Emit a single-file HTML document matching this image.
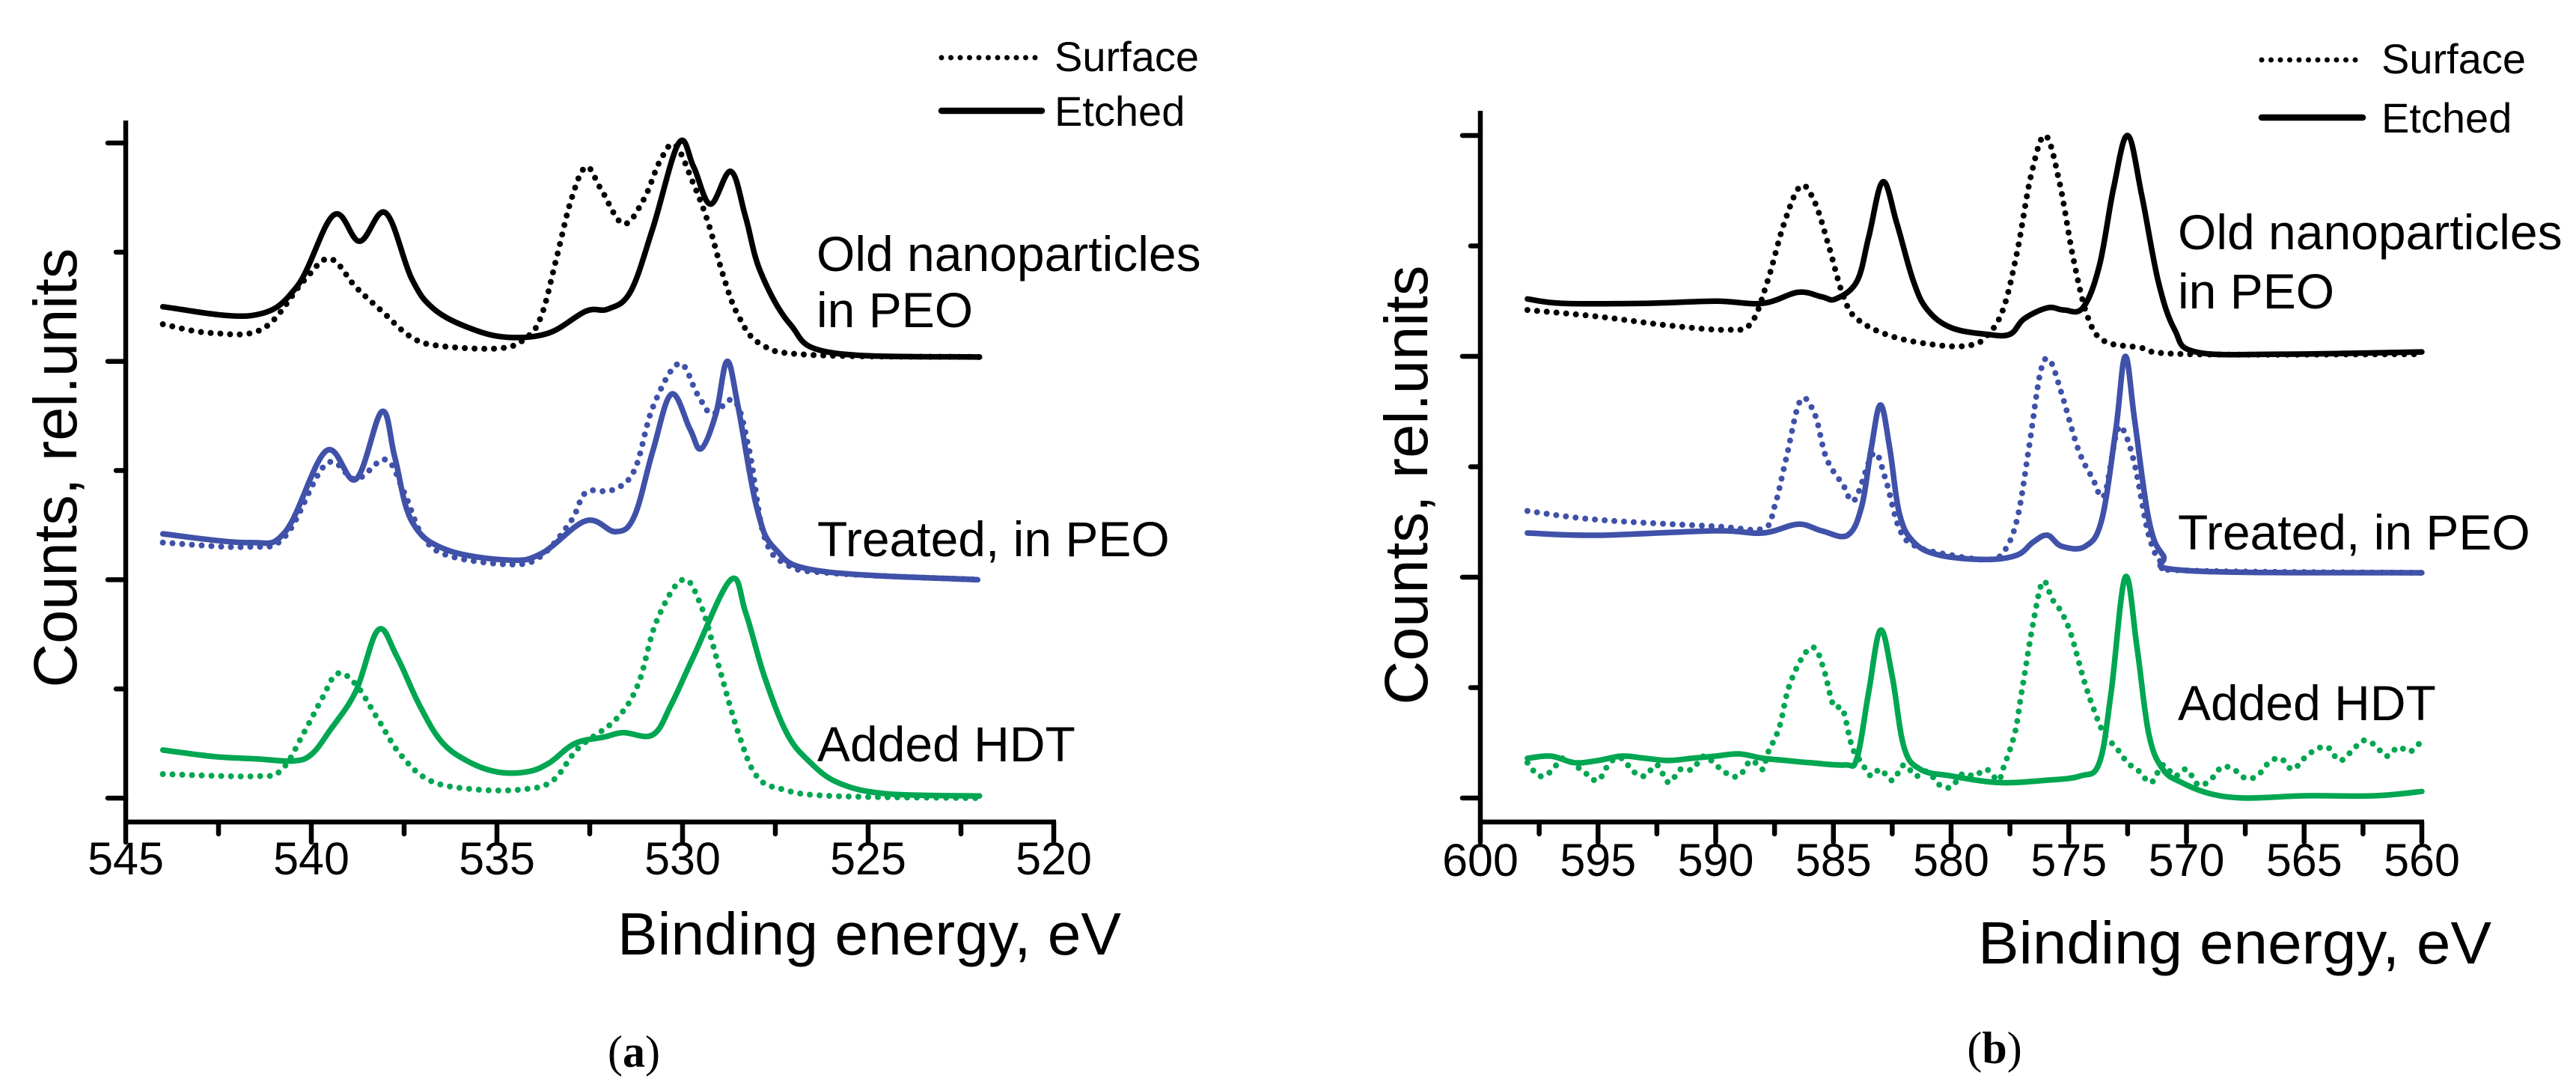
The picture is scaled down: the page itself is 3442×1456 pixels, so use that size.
<!DOCTYPE html>
<html><head><meta charset="utf-8">
<style>
html,body{margin:0;padding:0;background:#fff;}
svg{display:block;}
text{font-family:"Liberation Sans",Arial,sans-serif;fill:#000;}
</style></head>
<body>
<svg id="fig" width="3442" height="1456" viewBox="0 0 3442 1456" xmlns="http://www.w3.org/2000/svg">
<rect width="3442" height="1456" fill="#fff"/>
<g id="panelA"></g>
<g id="panelB"></g>
<text x="847" y="1425" font-size="60" text-anchor="middle" style="font-family:'Liberation Serif',serif">(<tspan font-weight="bold">a</tspan>)</text>
<text x="2665" y="1420" font-size="60" text-anchor="middle" style="font-family:'Liberation Serif',serif">(<tspan font-weight="bold">b</tspan>)</text>
</svg>
<script>
// ---------- Panel A data (O 1s region) ----------
const aTicks = [545, 540, 535, 530, 525, 520];
const aBlackEtchedE = [544,541.6,540.4,539.4,538.7,538.0,537.3,536.7,535.7,534.7,533.6,532.6,532.0,531.4,530.8,530.1,529.7,529.25,528.7,528.3,527.9,527.1,526.0,522.0];
const aBlackEtchedV = [0.25,0.21,0.34,0.67,0.55,0.68,0.38,0.24,0.15,0.11,0.13,0.23,0.24,0.32,0.61,1.0,0.89,0.72,0.87,0.66,0.41,0.17,0.04,0.02];
const aBlackSurfE = [544,542.7,541.3,540.2,539.5,538.8,538.1,537.3,536.5,534.9,534.2,533.8,533.4,533.0,532.6,532.2,531.6,531.05,530.6,530.2,529.7,529.3,528.9,528.5,527.9,526.6,522.0];
const aBlackSurfV = [0.17,0.13,0.15,0.37,0.47,0.34,0.23,0.11,0.07,0.06,0.11,0.21,0.47,0.74,0.89,0.79,0.63,0.74,0.92,0.99,0.81,0.63,0.39,0.21,0.08,0.03,0.02];
const aBlueEtchedE = [544,541.7,540.7,539.6,538.8,538.1,537.75,537.3,536.4,534.7,533.8,532.6,531.8,531.3,530.8,530.3,529.8,529.5,529.1,528.8,528.5,528.0,527.5,526.3,522.05];
const aBlueEtchedV = [0.21,0.17,0.22,0.59,0.46,0.77,0.56,0.27,0.14,0.09,0.12,0.27,0.22,0.29,0.59,0.85,0.69,0.60,0.76,1.0,0.79,0.33,0.14,0.04,0.0];
const aBlueSurfE = [544,541.7,540.7,539.6,538.8,538.0,537.5,537.0,536.3,534.6,533.8,533.0,532.6,531.9,531.3,530.8,530.1,529.6,529.2,528.6,528.2,527.8,527.2,526.0,522.0];
const aBlueSurfV = [0.17,0.15,0.20,0.53,0.46,0.55,0.40,0.20,0.11,0.07,0.11,0.27,0.40,0.41,0.50,0.79,0.99,0.85,0.76,0.82,0.59,0.20,0.07,0.03,0.0];
const aGreenEtchedE = [544,542.6,541.5,540.5,540.0,539.5,538.8,538.2,537.7,537.1,536.5,535.8,535.0,534.2,533.6,532.9,532.1,531.6,530.8,530.3,529.7,528.7,528.3,527.8,527.2,526.6,525.8,524.5,522.0];
const aGreenEtchedV = [0.22,0.19,0.18,0.17,0.20,0.31,0.49,0.77,0.65,0.43,0.26,0.17,0.12,0.12,0.16,0.25,0.28,0.30,0.29,0.43,0.65,1.0,0.85,0.56,0.30,0.17,0.07,0.02,0.01];
const aGreenSurfE = [544,541.5,540.8,540.2,539.7,539.3,538.8,538.2,537.6,536.8,535.6,534.3,533.5,532.8,531.8,531.2,530.7,530.0,529.5,529.0,528.5,528.0,527.3,526.0,522.0];
const aGreenSurfV = [0.11,0.10,0.13,0.30,0.46,0.57,0.52,0.36,0.20,0.08,0.04,0.04,0.08,0.23,0.36,0.52,0.81,1.0,0.88,0.59,0.30,0.10,0.04,0.01,0.0];

// ---------- Panel B data (Te 3d region) ----------
const bTicks = [600, 595, 590, 585, 580, 575, 570, 565, 560];
const bBlackEtchedE = [598,596.5,593,590,588,586.5,585.5,584.9,584,583.5,582.9,582.3,581.6,581.0,580.0,578.5,577.5,576.9,575.9,575.2,574.4,573.7,573.1,572.5,571.9,571.2,570.5,569.6,566,560];
const bBlackEtchedV = [0.26,0.24,0.24,0.25,0.24,0.29,0.27,0.26,0.34,0.54,0.79,0.60,0.34,0.21,0.13,0.10,0.10,0.17,0.22,0.21,0.22,0.41,0.76,1.0,0.73,0.34,0.12,0.02,0.01,0.02];
const bBlackSurfE = [598,595,592,589.5,588.5,587.8,587.1,586.4,585.8,585.2,584.6,584.0,582.5,580.5,579.2,578.5,577.8,577.2,576.6,576.0,575.4,574.8,574.2,573.5,572,570,560];
const bBlackSurfV = [0.21,0.18,0.14,0.12,0.15,0.34,0.60,0.77,0.70,0.50,0.28,0.17,0.09,0.05,0.05,0.09,0.21,0.47,0.82,1.0,0.79,0.44,0.18,0.07,0.04,0.01,0.01];
const bBlueEtchedE = [598,595,590,588,586.5,585.5,584.4,583.8,583.4,583.0,582.6,582.2,581.6,580.5,578.5,577.2,576.5,575.9,575.3,574.3,573.6,573.0,572.6,572.2,571.6,571.0,570,560];
const bBlueEtchedV = [0.20,0.19,0.21,0.20,0.24,0.21,0.19,0.32,0.58,0.78,0.58,0.29,0.16,0.10,0.08,0.10,0.16,0.19,0.14,0.14,0.26,0.67,1.0,0.71,0.26,0.10,0.03,0.02];
const bBlueSurfE = [598,595,590,588,587.5,587.0,586.4,585.8,585.3,584.6,584.1,583.3,582.8,582.2,581.5,580,578.5,577.8,577.2,576.7,576.2,575.8,575.3,574.6,574.0,573.5,573.0,572.7,572.2,571.6,571.0,570,560];
const bBlueSurfV = [0.30,0.26,0.23,0.22,0.32,0.54,0.80,0.74,0.54,0.42,0.35,0.56,0.45,0.22,0.14,0.10,0.08,0.11,0.26,0.58,0.93,0.98,0.83,0.58,0.45,0.37,0.64,0.67,0.51,0.19,0.06,0.03,0.02];
const bGreenEtchedE = [598,597,596,595,594,593,592,591,590,589,588,587,586,584.5,584,583.5,583.0,582.5,582.0,581.3,580,578,576,574.5,573.7,573.2,572.6,572.1,571.6,571.0,570.2,569,567.5,565,562,560];
const bGreenEtchedV = [0.18,0.19,0.16,0.17,0.19,0.18,0.17,0.18,0.19,0.20,0.18,0.17,0.16,0.15,0.18,0.48,0.76,0.55,0.23,0.13,0.10,0.07,0.08,0.10,0.16,0.48,1.0,0.68,0.29,0.13,0.07,0.02,0.0,0.01,0.01,0.03];
const bGreenSurfE = [598,597.5,597,596.5,596,595.5,595,594.5,594,593.5,593,592.5,592,591.5,591,590.5,590,589.5,589,588.5,588,587.8,587.3,586.9,586.3,585.8,585.4,585.0,584.6,584.2,583.8,583.4,583,582.5,582,581.5,581,580.5,580,579.5,579,578.5,578,577.8,577.3,577.0,576.5,576.1,575.7,575.3,574.9,574.4,574.0,573.5,573.0,572.5,572,571.5,571,570.5,570,569.5,569,568.5,568,567.5,567,566.5,566,565.5,565,564.5,564,563.5,563,562.5,562,561.5,561,560.5,560];
const bGreenSurfV = [0.16,0.10,0.12,0.18,0.15,0.11,0.08,0.16,0.18,0.12,0.10,0.15,0.07,0.13,0.13,0.19,0.15,0.11,0.10,0.17,0.13,0.20,0.32,0.50,0.64,0.68,0.58,0.42,0.40,0.23,0.16,0.10,0.13,0.08,0.15,0.10,0.12,0.06,0.05,0.11,0.10,0.13,0.08,0.13,0.29,0.48,0.80,0.98,0.90,0.84,0.74,0.55,0.42,0.29,0.23,0.16,0.12,0.07,0.15,0.10,0.13,0.06,0.08,0.14,0.13,0.09,0.10,0.16,0.18,0.13,0.18,0.22,0.23,0.17,0.21,0.26,0.24,0.19,0.23,0.21,0.26];

const NS = 'http://www.w3.org/2000/svg';
const BLACK = '#000000', BLUE = '#3f51a8', GREEN = '#00a651';

function mk(parent, tag, attrs) {
  const e = document.createElementNS(NS, tag);
  for (const k in attrs) e.setAttribute(k, attrs[k]);
  parent.appendChild(e);
  return e;
}

// smooth path through points (Catmull-Rom, reduced tension)
function smoothPath(p) {
  const t = 0.35;
  let d = 'M' + p[0][0].toFixed(1) + ',' + p[0][1].toFixed(1);
  for (let i = 0; i < p.length - 1; i++) {
    const p0 = p[i - 1] || p[i], p1 = p[i], p2 = p[i + 1], p3 = p[i + 2] || p2;
    const c1x = p1[0] + (p2[0] - p0[0]) * t / 2, c1y = p1[1] + (p2[1] - p0[1]) * t / 2;
    const c2x = p2[0] - (p3[0] - p1[0]) * t / 2, c2y = p2[1] - (p3[1] - p1[1]) * t / 2;
    d += ' C' + c1x.toFixed(1) + ',' + c1y.toFixed(1) + ' ' + c2x.toFixed(1) + ',' + c2y.toFixed(1) + ' ' + p2[0].toFixed(1) + ',' + p2[1].toFixed(1);
  }
  return d;
}

function drawPanel(g, cfg) {
  const xs = e => cfg.x0 + (cfg.eMax - e) * (cfg.x1 - cfg.x0) / (cfg.eMax - cfg.eMin);
  const ya = mk(g, 'line', {x1: cfg.x0, y1: cfg.axisTop, x2: cfg.x0, y2: cfg.axisY, stroke: '#000', 'stroke-width': 6.5});
  
  
  const xa = mk(g, 'line', {x1: cfg.x0 - 3, y1: cfg.axisY, x2: cfg.x1 + 3, y2: cfg.axisY, stroke: '#000', 'stroke-width': 6.5});
  
  
  for (let i = 0; i < 7; i++) {
    const y = cfg.yTop + i * cfg.span / 2;
    const len = i % 2 === 0 ? 24 : 13;
    const t = mk(g, 'line', {x1: cfg.x0 - len, y1: y, x2: cfg.x0, y2: y, stroke: '#000', 'stroke-width': 6.5, 'stroke-linecap': 'round'});
    
    
  }
  const ticks = cfg.ticks;
  for (let i = 0; i < ticks.length; i++) {
    const x = xs(ticks[i]);
    const t = mk(g, 'line', {x1: x, y1: cfg.axisY, x2: x, y2: cfg.axisY + 27, stroke: '#000', 'stroke-width': 6.5, 'stroke-linecap': 'round'});
    
    
    const lab = mk(g, 'text', {x: x, y: cfg.tickLabelY, 'font-size': 61, 'text-anchor': 'middle'});
    lab.textContent = ticks[i];
    
    
    if (i < ticks.length - 1) {
      const xm = xs((ticks[i] + ticks[i + 1]) / 2);
      const m = mk(g, 'line', {x1: xm, y1: cfg.axisY, x2: xm, y2: cfg.axisY + 16, stroke: '#000', 'stroke-width': 6.5, 'stroke-linecap': 'round'});
      
      
    }
  }
  cfg.series.forEach(s => {
    const base = cfg.yTop + s.group * cfg.span;
    const pts = s.e.map((e, i) => [xs(e), base - s.v[i] * cfg.span]);
    const attrs = {d: smoothPath(pts), fill: 'none', stroke: s.color, 'stroke-width': s.dotted ? 8 : 7.5, 'stroke-linejoin': 'round', 'stroke-linecap': 'round'};
    if (s.dotted) attrs['stroke-dasharray'] = '0 13';
    const p = mk(g, 'path', attrs);
    
    
  });
  cfg.labels.forEach(l => {
    const t = mk(g, 'text', {x: l.x, y: l.y, 'font-size': 66});
    t.textContent = l.t;
    
    
  });
  const lg = mk(g, 'g', {});
  
  
  const l1 = mk(lg, 'line', {x1: cfg.lg.x, y1: cfg.lg.y1, x2: cfg.lg.x + cfg.lg.w - 4, y2: cfg.lg.y1, stroke: '#000', 'stroke-width': 7, 'stroke-dasharray': '0 12.5', 'stroke-linecap': 'round'});
  
  
  const t1 = mk(lg, 'text', {x: cfg.lg.tx, y: cfg.lg.y1 + 18, 'font-size': 56});
  t1.textContent = 'Surface';
  
  
  const l2 = mk(lg, 'line', {x1: cfg.lg.x, y1: cfg.lg.y2, x2: cfg.lg.x + cfg.lg.w, y2: cfg.lg.y2, stroke: '#000', 'stroke-width': 8.5, 'stroke-linecap': 'round'});
  
  
  const t2 = mk(lg, 'text', {x: cfg.lg.tx, y: cfg.lg.y2 + 20, 'font-size': 56});
  t2.textContent = 'Etched';
  
  
  const xt = mk(g, 'text', {x: cfg.xt.x, y: cfg.xt.y, 'font-size': 80, textLength: cfg.xt.w, lengthAdjust: 'spacingAndGlyphs'});
  xt.textContent = 'Binding energy, eV';
  
  
  const yt = mk(g, 'text', {x: 0, y: 0, 'font-size': 82, 'text-anchor': 'middle', textLength: 587, lengthAdjust: 'spacingAndGlyphs', transform: 'translate(' + cfg.yt.x + ',' + cfg.yt.y + ') rotate(-90)'});
  yt.textContent = 'Counts, rel.units';
  
  
}

drawPanel(document.getElementById('panelA'), {
  x0: 168, x1: 1408, eMax: 545, eMin: 520, axisTop: 161, axisY: 1098, yTop: 191, span: 291.7, tickLabelY: 1168,
  ticks: aTicks,
  series: [
    {e: aBlackSurfE, v: aBlackSurfV, group: 1, color: BLACK, dotted: true, name: 'old-surface-curve'},
    {e: aBlackEtchedE, v: aBlackEtchedV, group: 1, color: BLACK, dotted: false, name: 'old-etched-curve'},
    {e: aBlueSurfE, v: aBlueSurfV, group: 2, color: BLUE, dotted: true, name: 'treated-surface-curve'},
    {e: aBlueEtchedE, v: aBlueEtchedV, group: 2, color: BLUE, dotted: false, name: 'treated-etched-curve'},
    {e: aGreenSurfE, v: aGreenSurfV, group: 3, color: GREEN, dotted: true, name: 'hdt-surface-curve'},
    {e: aGreenEtchedE, v: aGreenEtchedV, group: 3, color: GREEN, dotted: false, name: 'hdt-etched-curve'}
  ],
  labels: [
    {t: 'Old nanoparticles', x: 1091, y: 362, n: 'old-label'},
    {t: 'in PEO', x: 1091, y: 437, n: 'old-label-line2'},
    {t: 'Treated, in PEO', x: 1092, y: 743, n: 'treated-label'},
    {t: 'Added HDT', x: 1092, y: 1017, n: 'hdt-label'}
  ],
  lg: {x: 1258, w: 134, y1: 77, y2: 148, tx: 1409},
  xt: {x: 825, y: 1275, w: 673},
  yt: {x: 102, y: 625}
});

drawPanel(document.getElementById('panelB'), {
  x0: 1978, x1: 3236, eMax: 600, eMin: 560, axisTop: 148, axisY: 1098, yTop: 181, span: 295, tickLabelY: 1170,
  ticks: bTicks,
  series: [
    {e: bBlackSurfE, v: bBlackSurfV, group: 1, color: BLACK, dotted: true, name: 'old-surface-curve'},
    {e: bBlackEtchedE, v: bBlackEtchedV, group: 1, color: BLACK, dotted: false, name: 'old-etched-curve'},
    {e: bBlueSurfE, v: bBlueSurfV, group: 2, color: BLUE, dotted: true, name: 'treated-surface-curve'},
    {e: bBlueEtchedE, v: bBlueEtchedV, group: 2, color: BLUE, dotted: false, name: 'treated-etched-curve'},
    {e: bGreenSurfE, v: bGreenSurfV, group: 3, color: GREEN, dotted: true, name: 'hdt-surface-curve'},
    {e: bGreenEtchedE, v: bGreenEtchedV, group: 3, color: GREEN, dotted: false, name: 'hdt-etched-curve'}
  ],
  labels: [
    {t: 'Old nanoparticles', x: 2910, y: 333, n: 'old-label'},
    {t: 'in PEO', x: 2910, y: 412, n: 'old-label-line2'},
    {t: 'Treated, in PEO', x: 2910, y: 734, n: 'treated-label'},
    {t: 'Added HDT', x: 2910, y: 962, n: 'hdt-label'}
  ],
  lg: {x: 3022, w: 135, y1: 80, y2: 157, tx: 3182},
  xt: {x: 2643, y: 1287, w: 686},
  yt: {x: 1907, y: 648}
});
</script>
</body></html>
